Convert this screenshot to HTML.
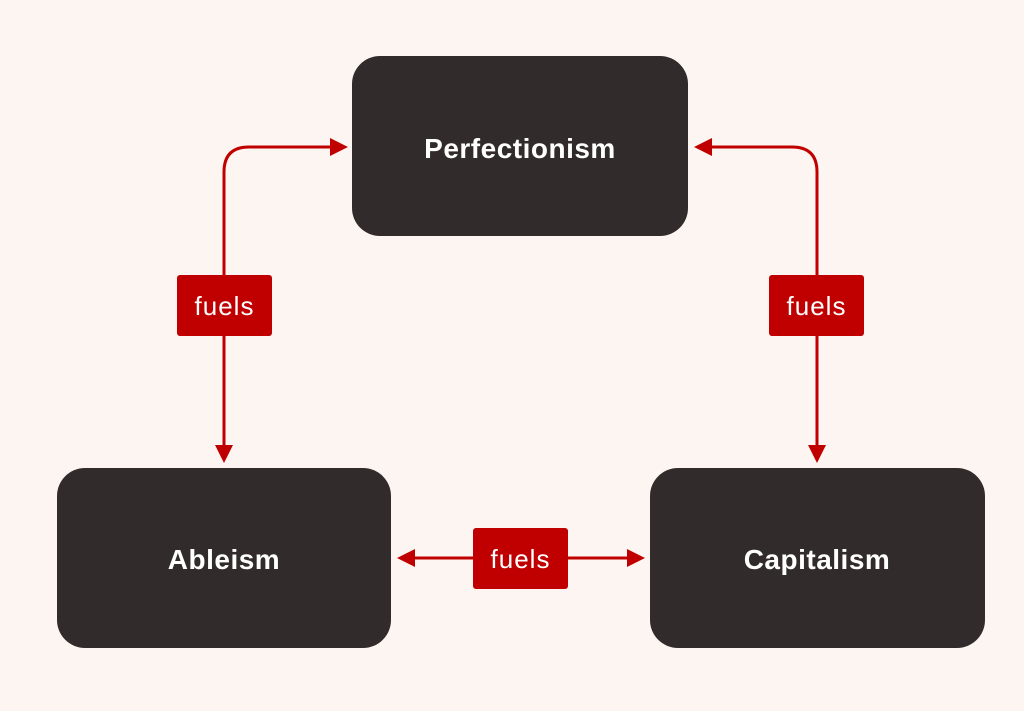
<!DOCTYPE html>
<html><head><style>
html,body{margin:0;padding:0;background:#fcf5f1;}
svg{display:block;}
text{font-family:"Liberation Sans",sans-serif;font-weight:bold;}
</style></head><body>
<svg width="1024" height="711" viewBox="0 0 1024 711" xmlns="http://www.w3.org/2000/svg">
<rect width="1024" height="711" fill="#fcf5f1"/>
<rect x="352" y="56" width="336" height="180" rx="28" fill="#312c2b"/>
<rect x="57" y="468" width="334" height="180" rx="28" fill="#312c2b"/>
<rect x="650" y="468" width="335" height="180" rx="28" fill="#312c2b"/>
<text x="520" y="158" font-size="28" fill="#fff" text-anchor="middle" letter-spacing="0.5">Perfectionism</text>
<text x="224" y="569" font-size="28" fill="#fff" text-anchor="middle" letter-spacing="0.5">Ableism</text>
<text x="817" y="569" font-size="28" fill="#fff" text-anchor="middle" letter-spacing="0.5">Capitalism</text>
<g stroke="#c00000" stroke-width="3" fill="none">
<path d="M224 450 V172 Q224 147 249 147 H332"/>
<path d="M817 450 V172 Q817 147 792 147 H710"/>
<path d="M412 558 H628"/>
</g>
<g fill="#c00000">
<polygon points="348,147 330,138 330,156"/>
<polygon points="694,147 712,138 712,156"/>
<polygon points="224,463 215,445 233,445"/>
<polygon points="817,463 808,445 826,445"/>
<polygon points="397,558 415,549 415,567"/>
<polygon points="645,558 627,549 627,567"/>
<rect x="177" y="275" width="95" height="61" rx="3"/>
<rect x="769" y="275" width="95" height="61" rx="3"/>
<rect x="473" y="528" width="95" height="61" rx="3"/>
</g>
<g fill="#fff" font-size="26" text-anchor="middle">
<text x="224.5" y="315" style="font-weight:normal" letter-spacing="1">fuels</text>
<text x="816.5" y="315" style="font-weight:normal" letter-spacing="1">fuels</text>
<text x="520.5" y="568" style="font-weight:normal" letter-spacing="1">fuels</text>
</g>
</svg>
</body></html>
